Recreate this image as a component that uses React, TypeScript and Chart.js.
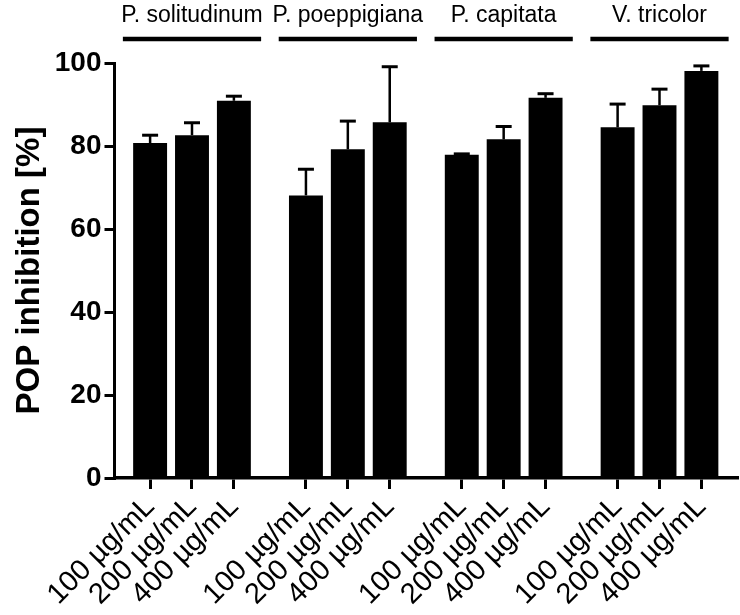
import React, { useEffect, useRef } from "react";
import { Chart, registerables } from "chart.js";

Chart.register(...registerables);

// ---------- data ----------
const GROUPS = ["P. solitudinum", "P. poeppigiana", "P. capitata", "V. tricolor"];
const DOSES = ["100 \u00B5g/mL", "200 \u00B5g/mL", "400 \u00B5g/mL"];

const MEAN_SOLITUDINUM = [80.7, 82.6, 90.9];
const MEAN_POEPPIGIANA = [68.1, 79.2, 85.7];
const MEAN_CAPITATA = [77.9, 81.6, 91.6];
const MEAN_TRICOLOR = [84.5, 89.8, 98.1];

const SD_SOLITUDINUM = [1.9, 3.0, 1.1];
const SD_POEPPIGIANA = [6.3, 6.8, 13.4];
const SD_CAPITATA = [0.2, 3.1, 1.0];
const SD_TRICOLOR = [5.6, 3.9, 1.2];

const Y_TICKS = [0, 20, 40, 60, 80, 100];
const Y_TITLE = "POP inhibition [%]";

// ---------- layout ----------
const GROUP_STRIDE = 3.72;
const X_PAD = 0.85;
const FONT = "'Liberation Sans', Arial, Helvetica, sans-serif";

const MEANS = [MEAN_SOLITUDINUM, MEAN_POEPPIGIANA, MEAN_CAPITATA, MEAN_TRICOLOR];
const SDS = [SD_SOLITUDINUM, SD_POEPPIGIANA, SD_CAPITATA, SD_TRICOLOR];

const XPOS: number[] = [];
const YVALS: number[] = [];
const ERRS: number[] = [];
MEANS.forEach((arr, g) =>
  arr.forEach((v, i) => {
    XPOS.push(g * GROUP_STRIDE + i);
    YVALS.push(v);
    ERRS.push(SDS[g][i]);
  })
);

const errorBarPlugin = {
  id: "errorBars",
  afterDatasetsDraw(chart: any) {
    const { ctx } = chart;
    const meta = chart.getDatasetMeta(0);
    const y = chart.scales.y;
    ctx.save();
    ctx.strokeStyle = "#000";
    meta.data.forEach((bar: any, i: number) => {
      const x = bar.x;
      const yb = y.getPixelForValue(YVALS[i]);
      const yt = y.getPixelForValue(YVALS[i] + ERRS[i]);
      ctx.lineWidth = 2.5;
      ctx.beginPath();
      ctx.moveTo(x, yb);
      ctx.lineTo(x, yt);
      ctx.stroke();
      ctx.lineWidth = 3;
      ctx.beginPath();
      ctx.moveTo(x - 8, yt);
      ctx.lineTo(x + 8, yt);
      ctx.stroke();
    });
    ctx.restore();
  },
};

const groupLabelPlugin = {
  id: "groupLabels",
  afterDraw(chart: any) {
    const { ctx } = chart;
    const xs = chart.scales.x;
    ctx.save();
    ctx.fillStyle = "#000";
    ctx.strokeStyle = "#000";
    ctx.font = `23px ${FONT}`;
    ctx.textAlign = "center";
    ctx.textBaseline = "middle";
    GROUPS.forEach((name, g) => {
      const c = g * GROUP_STRIDE + 1;
      const cx = xs.getPixelForValue(c);
      ctx.fillText(name, cx, 16);
      ctx.lineWidth = 4.5;
      ctx.beginPath();
      ctx.moveTo(xs.getPixelForValue(c - 1.65), 39);
      ctx.lineTo(xs.getPixelForValue(c + 1.65), 39);
      ctx.stroke();
    });
    ctx.restore();
  },
};

export default function App() {
  const ref = useRef<HTMLCanvasElement | null>(null);
  useEffect(() => {
    if (!ref.current) return;
    const chart = new Chart(ref.current, {
      type: "bar",
      data: {
        datasets: [
          {
            data: XPOS.map((x, i) => ({ x, y: YVALS[i] })),
            backgroundColor: "#000",
            borderWidth: 0,
            barPercentage: 0.81,
            categoryPercentage: 1,
          },
        ],
      },
      options: {
        animation: false,
        responsive: true,
        maintainAspectRatio: false,
        layout: { padding: { top: 63, right: 3, left: 0, bottom: 0 } },
        plugins: { legend: { display: false }, tooltip: { enabled: false } },
        scales: {
          x: {
            type: "linear",
            min: -X_PAD,
            max: 3 * GROUP_STRIDE + 2 + X_PAD,
            offset: false,
            afterBuildTicks: (scale: any) => {
              scale.ticks = XPOS.map((v) => ({ value: v }));
            },
            afterFit: (scale: any) => {
              scale.height = 137;
            },
            grid: {
              display: true,
              offset: false,
              drawOnChartArea: false,
              drawTicks: true,
              tickLength: 11,
              lineWidth: 3,
              color: "#000",
            },
            border: { display: true, width: 3.5, color: "#000" },
            ticks: {
              autoSkip: false,
              maxRotation: 45,
              minRotation: 45,
              padding: 1,
              color: "#000",
              font: { family: FONT, size: 29 },
              callback: (_v: any, i: number) => DOSES[i % DOSES.length],
            },
          },
          y: {
            min: 0,
            max: 100,
            afterBuildTicks: (scale: any) => {
              scale.ticks = Y_TICKS.map((v) => ({ value: v }));
            },
            afterFit: (scale: any) => {
              scale.width = 114.5;
            },
            grid: {
              display: true,
              drawOnChartArea: false,
              drawTicks: true,
              tickLength: 10,
              lineWidth: 3,
              color: "#000",
            },
            border: { display: true, width: 3, color: "#000" },
            ticks: {
              padding: 3,
              color: "#000",
              font: { family: FONT, size: 28, weight: "bold" },
            },
            title: {
              display: true,
              text: Y_TITLE,
              color: "#000",
              font: { family: FONT, size: 33, weight: "bold" },
              padding: { top: 10, bottom: 0 },
            },
          },
        },
      },
      plugins: [errorBarPlugin, groupLabelPlugin],
    } as any);
    return () => chart.destroy();
  }, []);
  return (
    <div style={{ position: "fixed", left: 0, top: 0, width: 740, height: 615, background: "#fff" }}>
      <canvas ref={ref} />
    </div>
  );
}
